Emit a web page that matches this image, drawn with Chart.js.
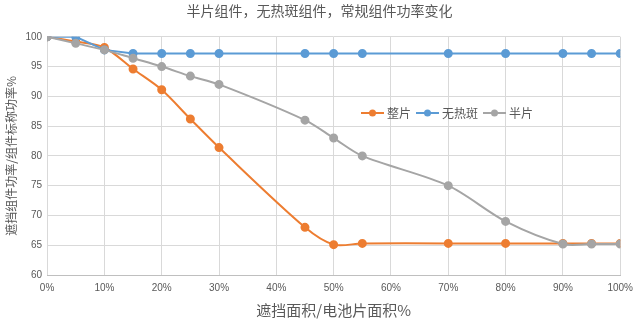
<!DOCTYPE html>
<html>
<head>
<meta charset="utf-8">
<script src="https://cdn.jsdelivr.net/npm/chart.js@4.4.1/dist/chart.umd.min.js"></script>
<style>
  body { margin: 0; background: #fff; }
</style>
</head>
<body>
<canvas id="chart" width="640" height="319"></canvas>
<script>
// shaded area / cell area, in %
let shadePercents = [0, 5, 10, 15, 20, 25, 30, 45, 50, 55, 70, 80, 90, 95, 100];

// series names
let seriesNames = ["整片", "无热斑", "半片"];

// module power / rated power %, one list per series
let wholeValues = [100, 99.2, 98.2, 94.6, 91.1, 86.2, 81.4, 68.0, 65.1, 65.3, 65.3, 65.3, 65.3, 65.3, 65.3];
let noHotspotValues = [100, 100, 97.8, 97.2, 97.2, 97.2, 97.2, 97.2, 97.2, 97.2, 97.2, 97.2, 97.2, 97.2, 97.2];
let halfCellValues = [100, 98.9, 97.8, 96.4, 95.0, 93.4, 92.0, 86.0, 83.0, 80.0, 75.0, 69.0, 65.2, 65.2, 65.2];

let seriesColours = ["#ED7D31", "#5B9BD5", "#A5A5A5"];

const fontCJK = "'Noto Sans CJK SC', 'Noto Sans', sans-serif";

function toPoints(values) {
    return values.map((v, i) => ({ x: shadePercents[i], y: v }));
}

// Legend sits inside the plot, like the original
const insideLegend = {
    id: "insideLegend",
    afterDraw(chart) {
        const ctx = chart.ctx;
        let x = 361;
        const y = 113;
        ctx.save();
        ctx.font = "12px " + fontCJK;
        ctx.textBaseline = "middle";
        chart.data.datasets.forEach((ds) => {
            ctx.strokeStyle = ds.borderColor;
            ctx.lineWidth = 2;
            ctx.beginPath();
            ctx.moveTo(x, y);
            ctx.lineTo(x + 23, y);
            ctx.stroke();
            ctx.fillStyle = ds.borderColor;
            ctx.beginPath();
            ctx.arc(x + 11.5, y, 3.5, 0, Math.PI * 2);
            ctx.fill();
            ctx.fillStyle = "#595959";
            ctx.fillText(ds.label, x + 26, y);
            x += 26 + ctx.measureText(ds.label).width + 5;
        });
        ctx.restore();
    }
};

function makeDataset(i, values, order, tension) {
    return {
        label: seriesNames[i],
        data: toPoints(values),
        borderColor: seriesColours[i],
        backgroundColor: seriesColours[i],
        borderWidth: 2,
        pointRadius: 3.5,
        pointHoverRadius: 3.5,
        tension: tension,
        order: order
    };
}

new Chart("chart", {
    type: "line",
    data: {
        datasets: [
            makeDataset(0, wholeValues, 2, 0.3),
            makeDataset(1, noHotspotValues, 1, 0),
            makeDataset(2, halfCellValues, 0, 0.3)
        ]
    },
    options: {
        responsive: false,
        animation: false,
        layout: { padding: { left: 4, right: 5, top: 1, bottom: 0 } },
        plugins: {
            legend: { display: false },
            tooltip: { enabled: false },
            title: {
                display: true,
                text: "半片组件，无热斑组件，常规组件功率变化",
                color: "#595959",
                font: { family: fontCJK, size: 14, weight: "normal" },
                padding: { top: 1, bottom: 18 }
            }
        },
        scales: {
            x: {
                type: "linear",
                min: 0,
                max: 100,
                ticks: {
                    stepSize: 10,
                    color: "#595959",
                    font: { size: 10 },
                    maxRotation: 0,
                    padding: 7,
                    callback: (v) => v + "%"
                },
                grid: { color: "#D9D9D9", drawTicks: false },
                border: { color: "#BFBFBF" },
                title: {
                    display: true,
                    text: "遮挡面积/电池片面积%",
                    color: "#595959",
                    font: { family: fontCJK, size: 15 },
                    padding: { top: 0, bottom: 0 }
                }
            },
            y: {
                min: 60,
                max: 100,
                ticks: {
                    stepSize: 5,
                    color: "#595959",
                    font: { size: 10 },
                    padding: 5
                },
                grid: { color: "#D9D9D9", drawTicks: false },
                border: { display: false },
                title: {
                    display: true,
                    text: "遮挡组件功率/组件标称功率%",
                    color: "#595959",
                    font: { family: fontCJK, size: 12 },
                    padding: { top: 0, bottom: 2 }
                }
            }
        }
    },
    plugins: [insideLegend]
});
</script>
</body>
</html>
